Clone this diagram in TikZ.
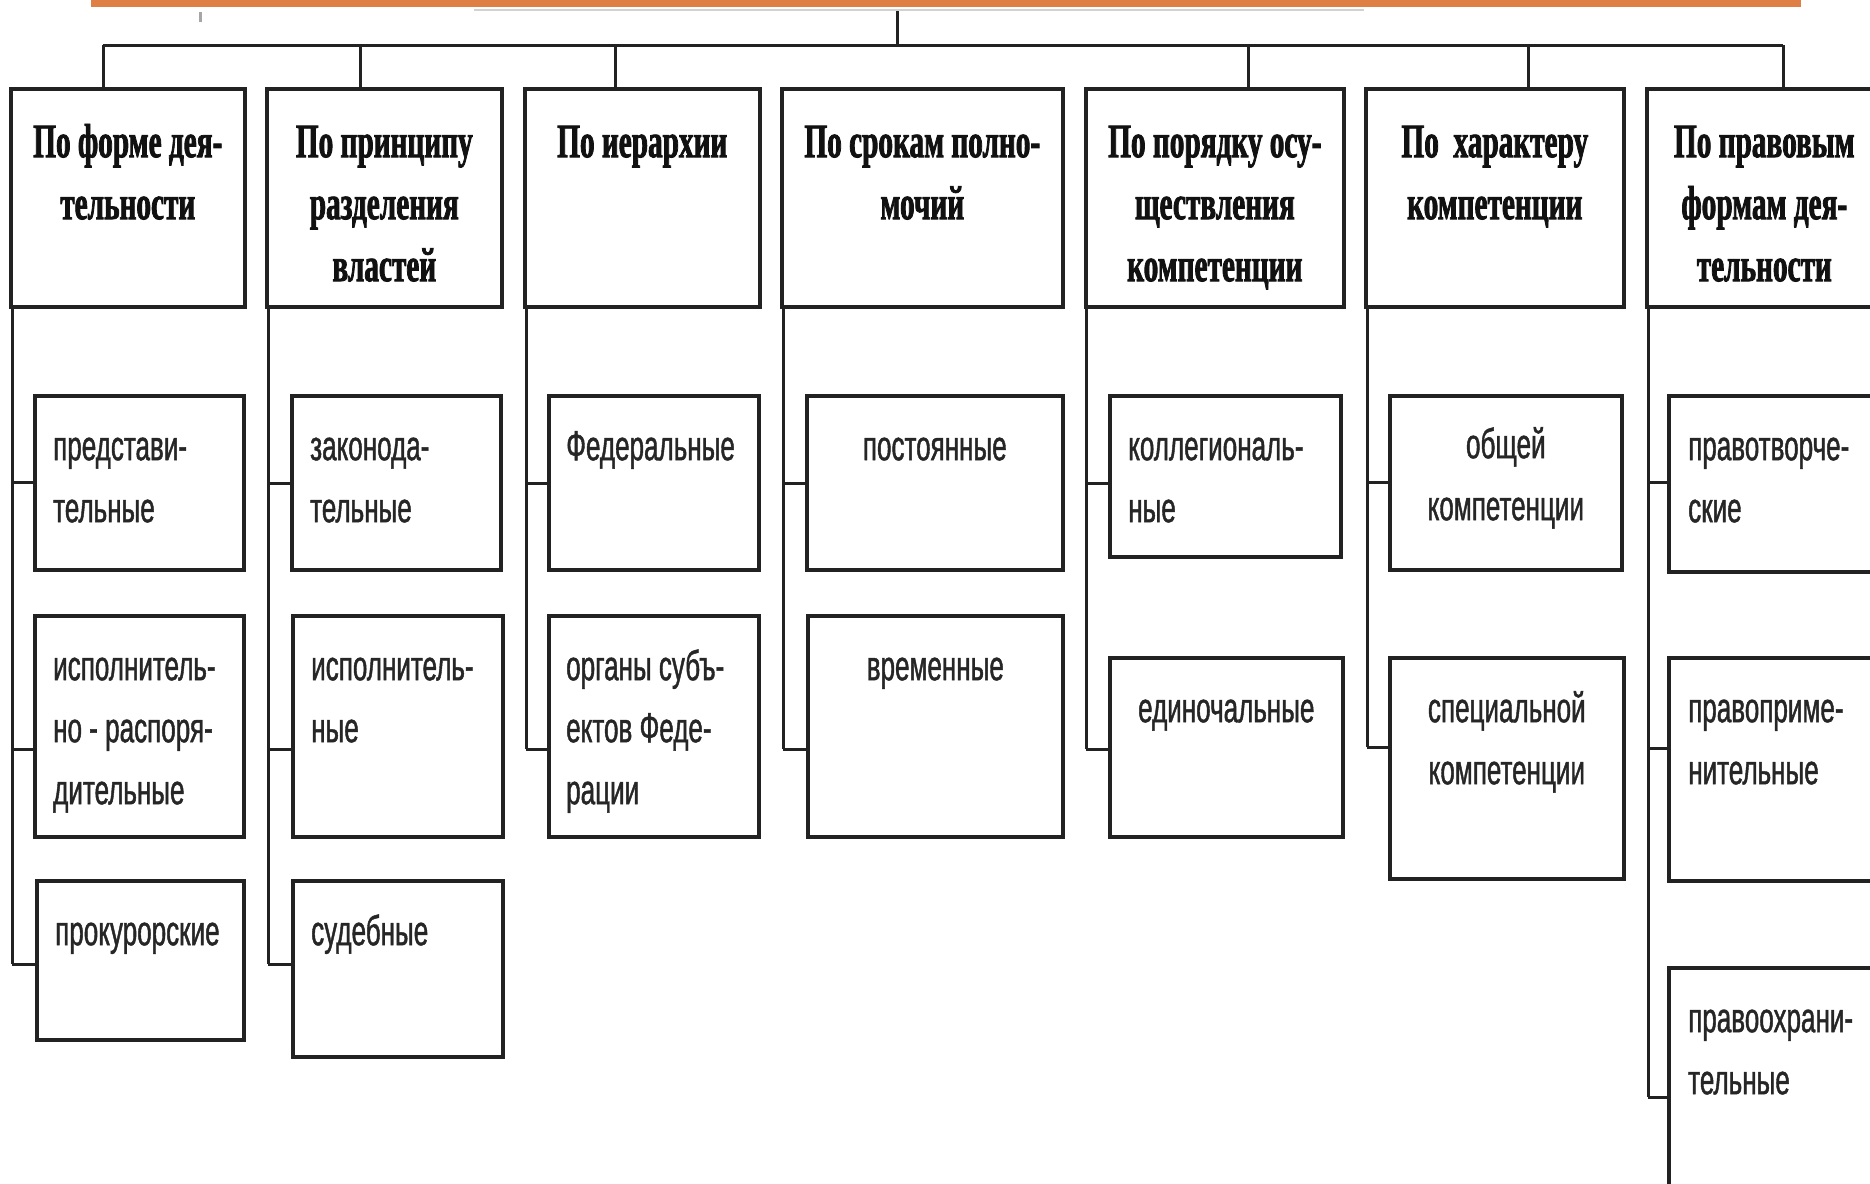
\documentclass[tikz,border=0pt]{standalone}
\usepackage{fontspec}
\newfontfamily\hdfont[FakeStretch=0.61,FakeBold=1.6]{Liberation Serif}
\newfontfamily\subfont[FakeStretch=0.62,FakeBold=1.0]{Liberation Sans}
\definecolor{linec}{HTML}{222222}
\definecolor{hdc}{HTML}{111111}
\definecolor{subc}{HTML}{262626}
\definecolor{barc}{HTML}{E07F45}
\newcommand{\hstr}{\rule{0pt}{40pt}}
\newcommand{\sstr}{\rule{0pt}{36pt}}
\begin{document}
\begin{tikzpicture}[x=1pt,y=-1pt,
  box/.style={draw=linec, line width=3.6pt, rectangle, inner sep=0pt, anchor=north west, fill=white},
  conn/.style={draw=linec, line width=3pt},
  hdtext/.style={inner sep=0pt, align=center, text=hdc, font=\hdfont\bfseries\fontsize{48}{62}\selectfont},
  subl/.style={inner sep=0pt, align=left, anchor=north west, text=subc, font=\subfont\fontsize{42}{62}\selectfont},
  subc/.style={inner sep=0pt, align=center, anchor=north, text=subc, font=\subfont\fontsize{42}{62}\selectfont}]
\fill[white] (0,0) rectangle (1870,1183);
\useasboundingbox (0,0) rectangle (1870,1183);
% top bar and faint remnants
\fill[barc] (91,0) rectangle (1801,7);
\coordinate (g1) at (474,10);
\coordinate (g2) at (1364,10);
\draw[gray!35, line width=2pt] (g1) -- (g2);
\coordinate (m1) at (200,12);
\coordinate (m2) at (200,22);
\draw[gray!70, line width=3pt] (m1) -- (m2);
% bus
\coordinate (top) at (897,11);
\coordinate (bus) at (897,45);
\coordinate (d1) at (103,45);
\coordinate (d2) at (360,45);
\coordinate (d3) at (615,45);
\coordinate (d5) at (1248,45);
\coordinate (d6) at (1528,45);
\coordinate (d7) at (1783,45);
% header boxes
\node[box, minimum width=234pt, minimum height=218pt] (h1) at (9,87) {};
\node[box, minimum width=235pt, minimum height=218pt] (h2) at (265,87) {};
\node[box, minimum width=235pt, minimum height=218pt] (h3) at (523,87) {};
\node[box, minimum width=281pt, minimum height=218pt] (h4) at (780,87) {};
\node[box, minimum width=258pt, minimum height=218pt] (h5) at (1084,87) {};
\node[box, minimum width=258pt, minimum height=218pt] (h6) at (1364,87) {};
\node[box, minimum width=235pt, minimum height=218pt] (h7) at (1645,87) {};
\draw[conn] (top) -- (bus);
\draw[conn] (d1) -- (d7);
\foreach \d/\h in {d1/h1,d2/h2,d3/h3,d5/h5,d6/h6,d7/h7} \draw[conn] (\d) -- (\d |- \h.north);
% header texts
\node[hdtext, anchor=north] (t1) at ([yshift=-30pt]h1.north) {\hstr По форме дея-\\тельности};
\node[hdtext, anchor=north] (t2) at ([yshift=-30pt]h2.north) {\hstr По принципу\\разделения\\властей};
\node[hdtext, anchor=north] (t3) at ([yshift=-30pt]h3.north) {\hstr По иерархии};
\node[hdtext, anchor=north] (t4) at ([yshift=-30pt]h4.north) {\hstr По срокам полно-\\мочий};
\node[hdtext, anchor=north] (t5) at ([yshift=-30pt]h5.north) {\hstr По порядку осу-\\ществления\\компетенции};
\node[hdtext, anchor=north] (t6) at ([yshift=-30pt]h6.north) {\hstr По\ \ характеру\\компетенции};
\node[hdtext, anchor=north] (t7) at ([yshift=-30pt]h7.north) {\hstr По правовым\\формам дея-\\тельности};
% sub boxes
\node[box, minimum width=209pt, minimum height=174pt] (s1a) at (33,394) {};
\node[box, minimum width=209pt, minimum height=221pt] (s1b) at (33,614) {};
\node[box, minimum width=207pt, minimum height=159pt] (s1c) at (35,879) {};
\node[box, minimum width=209pt, minimum height=174pt] (s2a) at (290,394) {};
\node[box, minimum width=210pt, minimum height=221pt] (s2b) at (291,614) {};
\node[box, minimum width=210pt, minimum height=176pt] (s2c) at (291,879) {};
\node[box, minimum width=210pt, minimum height=174pt] (s3a) at (547,394) {};
\node[box, minimum width=210pt, minimum height=221pt] (s3b) at (547,614) {};
\node[box, minimum width=256pt, minimum height=174pt] (s4a) at (805,394) {};
\node[box, minimum width=255pt, minimum height=221pt] (s4b) at (806,614) {};
\node[box, minimum width=231pt, minimum height=161pt] (s5a) at (1108,394) {};
\node[box, minimum width=233pt, minimum height=179pt] (s5b) at (1108,656) {};
\node[box, minimum width=232pt, minimum height=174pt] (s6a) at (1388,394) {};
\node[box, minimum width=234pt, minimum height=221pt] (s6b) at (1388,656) {};
\node[box, minimum width=230pt, minimum height=176pt] (s7a) at (1667,394) {};
\node[box, minimum width=230pt, minimum height=223pt] (s7b) at (1667,656) {};
\node[box, minimum width=230pt, minimum height=230pt] (s7c) at (1667,966) {};
% junctions on spines
\coordinate (j1a) at (12,482);  \coordinate (j1b) at (12,749);  \coordinate (j1c) at (12,964);
\coordinate (j2a) at (268,483); \coordinate (j2b) at (268,749); \coordinate (j2c) at (268,964);
\coordinate (j3a) at (526,483); \coordinate (j3b) at (526,749);
\coordinate (j4a) at (783,483); \coordinate (j4b) at (783,749);
\coordinate (j5a) at (1086,483); \coordinate (j5b) at (1086,749);
\coordinate (j6a) at (1367,482); \coordinate (j6b) at (1367,747);
\coordinate (j7a) at (1648,482); \coordinate (j7b) at (1648,748); \coordinate (j7c) at (1648,1097);
% spines
\draw[conn] (j1a |- h1.south) -- (j1c);
\draw[conn] (j2a |- h2.south) -- (j2c);
\draw[conn] (j3a |- h3.south) -- (j3b);
\draw[conn] (j4a |- h4.south) -- (j4b);
\draw[conn] (j5a |- h5.south) -- (j5b);
\draw[conn] (j6a |- h6.south) -- (j6b);
\draw[conn] (j7a |- h7.south) -- (j7c);
% branches
\foreach \j/\s in {j1a/s1a,j1b/s1b,j1c/s1c,j2a/s2a,j2b/s2b,j2c/s2c,j3a/s3a,j3b/s3b,j4a/s4a,j4b/s4b,j5a/s5a,j5b/s5b,j6a/s6a,j6b/s6b,j7a/s7a,j7b/s7b,j7c/s7c}
  \draw[conn] (\j) -- (\j -| \s.west);
% sub texts
\node[subl] (u1a) at ([xshift=20pt,yshift=-30pt]s1a.north west) {\sstr представи-\\тельные};
\node[subl] (u1b) at ([xshift=20pt,yshift=-30pt]s1b.north west) {\sstr исполнитель-\\но - распоря-\\дительные};
\node[subl] (u1c) at ([xshift=20pt,yshift=-30pt]s1c.north west) {\sstr прокурорские};
\node[subl] (u2a) at ([xshift=20pt,yshift=-30pt]s2a.north west) {\sstr законода-\\тельные};
\node[subl] (u2b) at ([xshift=20pt,yshift=-30pt]s2b.north west) {\sstr исполнитель-\\ные};
\node[subl] (u2c) at ([xshift=20pt,yshift=-30pt]s2c.north west) {\sstr судебные};
\node[subl] (u3a) at ([xshift=19pt,yshift=-30pt]s3a.north west) {\sstr Федеральные};
\node[subl] (u3b) at ([xshift=19pt,yshift=-30pt]s3b.north west) {\sstr органы субъ-\\ектов Феде-\\рации};
\node[subc] (u4a) at ([yshift=-30pt]s4a.north) {\sstr постоянные};
\node[subc] (u4b) at ([yshift=-30pt]s4b.north) {\sstr временные};
\node[subl] (u5a) at ([xshift=20pt,yshift=-30pt]s5a.north west) {\sstr коллегиональ-\\ные};
\node[subc] (u5b) at ([yshift=-30pt]s5b.north) {\sstr единочальные};
\node[subc] (u6a) at ([yshift=-28pt]s6a.north) {\sstr общей\\компетенции};
\node[subc] (u6b) at ([yshift=-30pt]s6b.north) {\sstr специальной\\компетенции};
\node[subl] (u7a) at ([xshift=21pt,yshift=-30pt]s7a.north west) {\sstr правотворче-\\ские};
\node[subl] (u7b) at ([xshift=21pt,yshift=-30pt]s7b.north west) {\sstr правоприме-\\нительные};
\node[subl] (u7c) at ([xshift=21pt,yshift=-30pt]s7c.north west) {\sstr правоохрани-\\тельные};
\end{tikzpicture}
\end{document}
